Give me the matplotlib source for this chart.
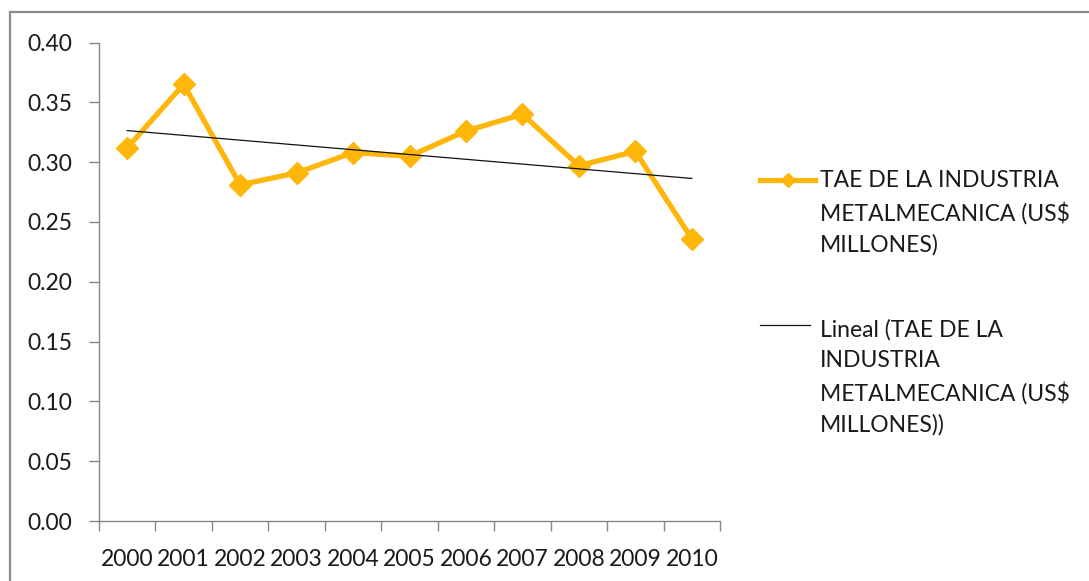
import numpy as np
import matplotlib
matplotlib.use("Agg")
import matplotlib.pyplot as plt
from matplotlib.lines import Line2D

# Data
years = ["2000", "2001", "2002", "2003", "2004", "2005",
         "2006", "2007", "2008", "2009", "2010"]
tae = [0.312, 0.365, 0.281, 0.291, 0.308, 0.305,
       0.326, 0.340, 0.297, 0.309, 0.236]
series_label = "TAE DE LA INDUSTRIA\nMETALMECANICA (US$\nMILLONES)"
trend_label = "Lineal (TAE DE LA\nINDUSTRIA\nMETALMECANICA (US$\nMILLONES))"
y_ticks = [0.00, 0.05, 0.10, 0.15, 0.20, 0.25, 0.30, 0.35, 0.40]

W, H = 1089, 581
plt.rcParams["font.family"] = ["Lato", "DejaVu Sans"]
FS = 16.5
ORANGE = "#FFB60A"
AXIS_GRAY = "#868686"
TEXT = "#1a1a1a"

fig = plt.figure(figsize=(W / 100, H / 100), dpi=100)
ax = fig.add_axes([99 / W, 60 / H, (720 - 99) / W, (521 - 42.5) / H])

x = np.arange(len(years))
ax.plot(x, tae, color=ORANGE, lw=3.8, marker="D", markersize=11.5,
        markeredgecolor=ORANGE, markerfacecolor=ORANGE, zorder=3)

# Linear trend fitted on the series
slope, intercept = np.polyfit(x, tae, 1)
ax.plot(x, slope * x + intercept, color="#111111", lw=0.9, zorder=4)

ax.set_xlim(-0.5, len(years) - 0.5)
ax.set_ylim(0, 0.40)
ax.set_yticks(y_ticks)
ax.set_yticklabels([f"{v:.2f}" for v in y_ticks], fontsize=FS, color=TEXT)
ax.set_xticks(x)
ax.set_xticklabels(years, fontsize=FS, color=TEXT)
ax.set_xticks(np.arange(-0.5, len(years)), minor=True)
ax.tick_params(axis="x", which="major", length=0, pad=20)
ax.tick_params(axis="x", which="minor", length=7, width=1, color=AXIS_GRAY)
ax.tick_params(axis="y", length=7, width=1, color=AXIS_GRAY, pad=12)

for s in ("top", "right"):
    ax.spines[s].set_visible(False)
for s in ("left", "bottom"):
    ax.spines[s].set_color(AXIS_GRAY)
    ax.spines[s].set_linewidth(1)

# Legend drawn at the right of the plot
def fx(px):
    return px / W

def fy(py):
    return 1 - py / H

LS = 1.56
fig.add_artist(Line2D([fx(760), fx(815)], [fy(179.5), fy(179.5)], color=ORANGE,
                      lw=3.8, transform=fig.transFigure))
fig.add_artist(Line2D([fx(787.5)], [fy(179.5)], color=ORANGE, marker="D",
                      markersize=7, lw=0, transform=fig.transFigure))
fig.text(fx(820), fy(252), series_label, fontsize=FS, va="baseline",
         ha="left", linespacing=LS, color=TEXT)
fig.add_artist(Line2D([fx(760), fx(810)], [fy(324.5), fy(324.5)],
                      color="#111111", lw=0.9, transform=fig.transFigure))
fig.text(fx(820), fy(432), trend_label, fontsize=FS, va="baseline",
         ha="left", linespacing=LS, color=TEXT)

# Chart frame (top and left edges)
fig.add_artist(Line2D([fx(10), fx(W)], [fy(12), fy(12)], color="#8c8c8c",
                      lw=1.6, transform=fig.transFigure))
fig.add_artist(Line2D([fx(10), fx(10)], [fy(12), 0], color="#8c8c8c",
                      lw=1.6, transform=fig.transFigure))

fig.savefig("out.png", dpi=100, facecolor="white")
